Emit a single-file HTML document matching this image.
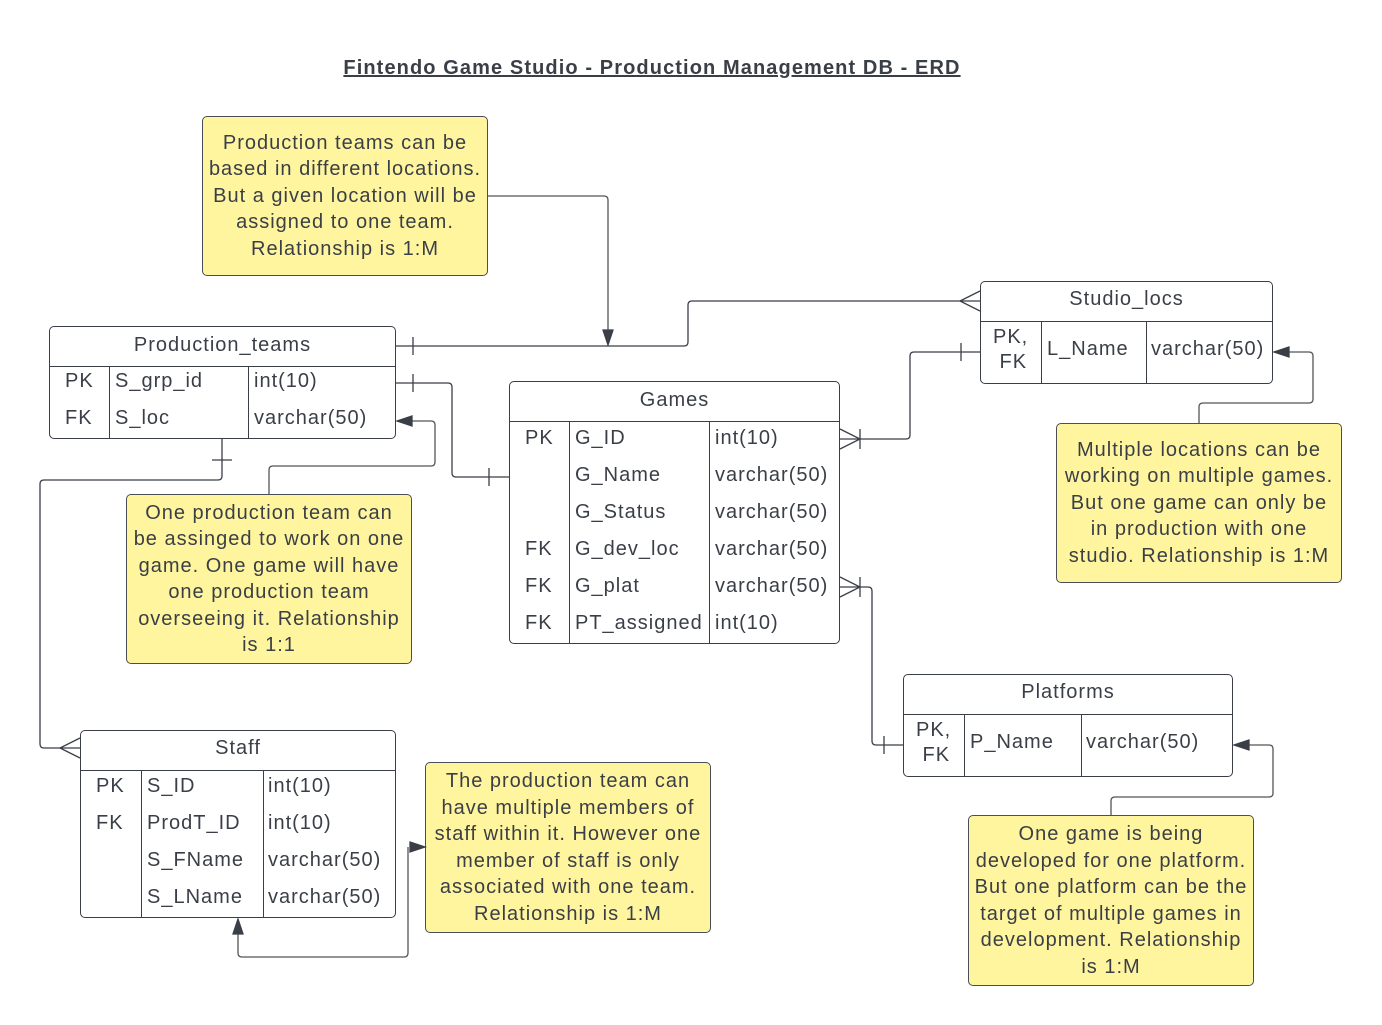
<!DOCTYPE html>
<html><head><meta charset="utf-8"><style>
*{box-sizing:border-box;margin:0;padding:0}
body{width:1382px;height:1025px;background:#fff;position:relative;overflow:hidden;font-family:"Liberation Sans",sans-serif;color:#3a3f47;letter-spacing:1px}
.t{position:absolute;border:1.3px solid #3a3f47;border-radius:5px;background:#fff}
.h{position:absolute;left:0;right:0;top:0;border-bottom:1.3px solid #3a3f47;text-align:center;font-size:20px}
.c{position:absolute;font-size:20px;white-space:nowrap}
.v{position:absolute;width:0;border-left:1.3px solid #3a3f47}
.n{position:absolute;background:#fff59f;border:1.3px solid #4a4f57;border-radius:5px;font-size:20px;line-height:26.5px;text-align:center;display:flex;align-items:center;justify-content:center;white-space:nowrap}
svg{position:absolute;left:0;top:0}
</style></head><body>
<div style="position:absolute;left:0;width:1304px;top:57px;text-align:center;font-weight:bold;font-size:20px;text-decoration:underline;letter-spacing:1.1px">Fintendo Game Studio - Production Management DB - ERD</div>

<div class="t" style="left:49px;top:326px;width:347px;height:113px">
<div class="h" style="height:40px;line-height:36px">Production_teams</div>
<div class="v" style="left:59px;top:39px;height:73px"></div><div class="v" style="left:198px;top:39px;height:73px"></div>
<div class="c" style="left:15px;top:43px">PK</div><div class="c" style="left:65px;top:43px">S_grp_id</div><div class="c" style="left:204px;top:43px">int(10)</div>
<div class="c" style="left:15px;top:80px">FK</div><div class="c" style="left:65px;top:80px">S_loc</div><div class="c" style="left:204px;top:80px">varchar(50)</div>
</div>

<div class="t" style="left:509px;top:381px;width:331px;height:263px">
<div class="h" style="height:40px;line-height:36px">Games</div>
<div class="v" style="left:59px;top:39px;height:223px"></div><div class="v" style="left:199px;top:39px;height:223px"></div>
<div class="c" style="left:15px;top:45px">PK</div><div class="c" style="left:65px;top:45px">G_ID</div><div class="c" style="left:205px;top:45px">int(10)</div>
<div class="c" style="left:65px;top:82px">G_Name</div><div class="c" style="left:205px;top:82px">varchar(50)</div>
<div class="c" style="left:65px;top:119px">G_Status</div><div class="c" style="left:205px;top:119px">varchar(50)</div>
<div class="c" style="left:15px;top:156px">FK</div><div class="c" style="left:65px;top:156px">G_dev_loc</div><div class="c" style="left:205px;top:156px">varchar(50)</div>
<div class="c" style="left:15px;top:193px">FK</div><div class="c" style="left:65px;top:193px">G_plat</div><div class="c" style="left:205px;top:193px">varchar(50)</div>
<div class="c" style="left:15px;top:230px">FK</div><div class="c" style="left:65px;top:230px">PT_assigned</div><div class="c" style="left:205px;top:230px">int(10)</div>
</div>

<div class="t" style="left:980px;top:281px;width:293px;height:103px">
<div class="h" style="height:40px;line-height:34px">Studio_locs</div>
<div class="v" style="left:60px;top:39px;height:63px"></div><div class="v" style="left:165px;top:39px;height:63px"></div>
<div class="c" style="left:12px;top:43px;line-height:25px">PK,<br>&nbsp;FK</div><div class="c" style="left:66px;top:56px">L_Name</div><div class="c" style="left:170px;top:56px">varchar(50)</div>
</div>

<div class="t" style="left:903px;top:674px;width:330px;height:103px">
<div class="h" style="height:40px;line-height:34px">Platforms</div>
<div class="v" style="left:60px;top:39px;height:63px"></div><div class="v" style="left:177px;top:39px;height:63px"></div>
<div class="c" style="left:12px;top:43px;line-height:25px">PK,<br>&nbsp;FK</div><div class="c" style="left:66px;top:56px">P_Name</div><div class="c" style="left:182px;top:56px">varchar(50)</div>
</div>

<div class="t" style="left:80px;top:730px;width:316px;height:188px">
<div class="h" style="height:40px;line-height:34px">Staff</div>
<div class="v" style="left:60px;top:39px;height:148px"></div><div class="v" style="left:182px;top:39px;height:148px"></div>
<div class="c" style="left:15px;top:44px">PK</div><div class="c" style="left:66px;top:44px">S_ID</div><div class="c" style="left:187px;top:44px">int(10)</div>
<div class="c" style="left:15px;top:81px">FK</div><div class="c" style="left:66px;top:81px">ProdT_ID</div><div class="c" style="left:187px;top:81px">int(10)</div>
<div class="c" style="left:66px;top:118px">S_FName</div><div class="c" style="left:187px;top:118px">varchar(50)</div>
<div class="c" style="left:66px;top:155px">S_LName</div><div class="c" style="left:187px;top:155px">varchar(50)</div>
</div>

<div class="n" style="left:202px;top:116px;width:286px;height:160px">Production teams can be<br>based in different locations.<br>But a given location will be<br>assigned to one team.<br>Relationship is 1:M</div>
<div class="n" style="left:126px;top:494px;width:286px;height:170px">One production team can<br>be assinged to work on one<br>game. One game will have<br>one production team<br>overseeing it. Relationship<br>is 1:1</div>
<div class="n" style="left:1056px;top:423px;width:286px;height:160px">Multiple locations can be<br>working on multiple games.<br>But one game can only be<br>in production with one<br>studio. Relationship is 1:M</div>
<div class="n" style="left:425px;top:762px;width:286px;height:171px">The production team can<br>have multiple members of<br>staff within it. However one<br>member of staff is only<br>associated with one team.<br>Relationship is 1:M</div>
<div class="n" style="left:968px;top:815px;width:286px;height:171px">One game is being<br>developed for one platform.<br>But one platform can be the<br>target of multiple games in<br>development. Relationship<br>is 1:M</div>

<svg width="1382" height="1025" fill="none" stroke="#3a3f47" stroke-width="1.3">
<path d="M396 346 H684 q4 0 4-4 V305 q0-4 4-4 H980"/>
<path d="M413 337 V355"/>
<path d="M980 291 L960 301 L980 311"/>
<path d="M488 196 H604 q4 0 4 4 V336" stroke="#555"/>
<path d="M603 330 L608 345 L613 330Z" fill="#3a3f47"/>
<path d="M396 383 H448 q4 0 4 4 V473 q0 4 4 4 H509"/>
<path d="M413 374 V392 M489 468 V486"/>
<path d="M269 494 V470 q0-4 4-4 H431 q4 0 4-4 V425 q0-4-4-4 H410" stroke="#555"/>
<path d="M412 416 L397 421 L412 426Z" fill="#3a3f47"/>
<path d="M222 439 V476 q0 4-4 4 H44 q-4 0-4 4 V744 q0 4 4 4 H80"/>
<path d="M212 460 H232"/>
<path d="M80 738 L60 748 L80 758"/>
<path d="M840 439 H906 q4 0 4-4 V356 q0-4 4-4 H980"/>
<path d="M961 343 V361"/>
<path d="M840 429 L860 439 L840 449 M860 429 V449"/>
<path d="M840 587 H868 q4 0 4 4 V741 q0 4 4 4 H903"/>
<path d="M884 736 V754"/>
<path d="M840 577 L860 587 L840 597 M860 577 V597"/>
<path d="M1199 423 V407 q0-4 4-4 H1309 q4 0 4-4 V356 q0-4-4-4 H1288" stroke="#555"/>
<path d="M1289 347 L1274 352 L1289 357Z" fill="#3a3f47"/>
<path d="M1111 815 V801 q0-4 4-4 H1269 q4 0 4-4 V749 q0-4-4-4 H1248" stroke="#555"/>
<path d="M1249 740 L1234 745 L1249 750Z" fill="#3a3f47"/>
<path d="M408 847 V953 q0 4-4 4 H242 q-4 0-4-4 V933" stroke="#555"/>
<path d="M410 842 L425 847 L410 852Z" fill="#3a3f47"/>
<path d="M233 934 L238 919 L243 934Z" fill="#3a3f47"/>
</svg>
</body></html>
